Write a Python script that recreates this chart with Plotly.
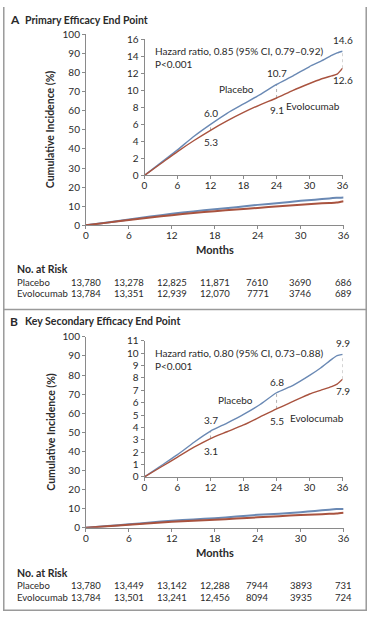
import plotly.graph_objects as go

W, H = 373, 617

# ---------------- data ----------------
months = [0, 3, 6, 9, 12, 15, 18, 21, 24, 27, 30, 32, 34, 35, 36]
placebo_a = [0, 1.5, 3.0, 4.6, 6.0, 7.3, 8.4, 9.5, 10.7, 11.7, 12.8, 13.4, 14.1, 14.4, 14.6]
evolocumab_a = [0, 1.4, 2.8, 4.1, 5.3, 6.4, 7.4, 8.3, 9.1, 10.0, 10.8, 11.3, 11.7, 11.9, 12.6]
placebo_b = [0, 0.9, 1.8, 2.8, 3.7, 4.35, 5.05, 5.85, 6.8, 7.4, 8.2, 8.8, 9.5, 9.8, 9.9]
evolocumab_b = [0, 0.8, 1.6, 2.4, 3.1, 3.65, 4.2, 4.85, 5.5, 6.1, 6.7, 7.0, 7.3, 7.5, 7.9]

marked_months = [12, 24, 36]

risk_months = [0, 6, 12, 18, 24, 30, 36]
risk_placebo_a = ["13,780", "13,278", "12,825", "11,871", "7610", "3690", "686"]
risk_evolocumab_a = ["13,784", "13,351", "12,939", "12,070", "7771", "3746", "689"]
risk_placebo_b = ["13,780", "13,449", "13,142", "12,288", "7944", "3893", "731"]
risk_evolocumab_b = ["13,784", "13,501", "13,241", "12,456", "8094", "3935", "724"]

hr_text_a = "Hazard ratio, 0.85 (95% CI, 0.79–0.92)<br>P<0.001"
hr_text_b = "Hazard ratio, 0.80 (95% CI, 0.73–0.88)<br>P<0.001"

PLACEBO_C = "#6a89b4"
EVO_C = "#a9533f"
TXT = "#2a2a2a"
AX = "#8a8a8a"
FONT = "Lato"


def fx(px):
    return px / W


def fy(py):
    return 1 - py / H


fig = go.Figure()

panels = [
    dict(pl=placebo_a, ev=evolocumab_a, main=("x", "y"), ins=("x2", "y2")),
    dict(pl=placebo_b, ev=evolocumab_b, main=("x3", "y3"), ins=("x4", "y4")),
]

for p in panels:
    fig.add_trace(go.Scatter(x=months, y=p["pl"], mode="lines", line=dict(color=PLACEBO_C, width=2, shape="spline", smoothing=0.6),
                             xaxis=p["main"][0], yaxis=p["main"][1], cliponaxis=False, hoverinfo="skip"))
    fig.add_trace(go.Scatter(x=months, y=p["ev"], mode="lines", line=dict(color=EVO_C, width=2, shape="spline", smoothing=0.6),
                             xaxis=p["main"][0], yaxis=p["main"][1], cliponaxis=False, hoverinfo="skip"))
    for m in marked_months:
        i = months.index(m)
        fig.add_trace(go.Scatter(x=[m, m], y=[p["ev"][i], p["pl"][i]], mode="lines",
                                 line=dict(color="#b0b0b0", width=1, dash="dot"),
                                 xaxis=p["ins"][0], yaxis=p["ins"][1], cliponaxis=False, hoverinfo="skip"))
    fig.add_trace(go.Scatter(x=months, y=p["pl"], mode="lines", line=dict(color=PLACEBO_C, width=1.4, shape="spline", smoothing=0.6),
                             xaxis=p["ins"][0], yaxis=p["ins"][1], cliponaxis=False, hoverinfo="skip"))
    fig.add_trace(go.Scatter(x=months, y=p["ev"], mode="lines", line=dict(color=EVO_C, width=1.4, shape="spline", smoothing=0.6),
                             xaxis=p["ins"][0], yaxis=p["ins"][1], cliponaxis=False, hoverinfo="skip"))

tickfont = dict(family=FONT, size=10, color=TXT)


def xax(domain, anchor):
    return dict(domain=domain, anchor=anchor, range=[0, 36], tickvals=[0, 6, 12, 18, 24, 30, 36],
                ticks="outside", ticklen=3, tickcolor=AX, showline=True, linecolor=AX, linewidth=1,
                showgrid=False, zeroline=False, tickfont=tickfont, fixedrange=True,
                ticklabelstandoff=-2)


def yax(domain, anchor, rng, dtick):
    return dict(domain=domain, anchor=anchor, range=rng, dtick=dtick,
                ticks="outside", ticklen=3, tickcolor=AX, showline=True, linecolor=AX, linewidth=1,
                showgrid=False, zeroline=False, tickfont=tickfont, fixedrange=True)


main_x = [fx(85), fx(349)]
ins_x = [fx(145), fx(348)]

fig.update_layout(
    width=W, height=H, margin=dict(l=0, r=0, t=0, b=0),
    paper_bgcolor="white", plot_bgcolor="rgba(0,0,0,0)", showlegend=False,
    font=dict(family=FONT, color=TXT),
    xaxis=xax(main_x, "y"),
    yaxis=yax([fy(223), fy(28)], "x", [0, 100], 10),
    xaxis2=xax(ins_x, "y2"),
    yaxis2=yax([fy(172), fy(33)], "x2", [0, 16], 2),
    xaxis3=xax(main_x, "y3"),
    yaxis3=yax([fy(532), fy(337)], "x3", [0, 100], 10),
    xaxis4=xax(ins_x, "y4"),
    yaxis4=yax([fy(480), fy(341)], "x4", [0, 11], 1),
)

ann = []


def paper_text(text, x, y, size=10, bold=False, xanchor="left", angle=0):
    t = f"<b>{text}</b>" if bold else text
    ann.append(dict(text=t, x=fx(x), y=fy(y), xref="paper", yref="paper", showarrow=False,
                    xanchor=xanchor, yanchor="middle", textangle=angle,
                    font=dict(family=FONT, size=size, color=TXT)))


def data_text(text, x, y, xr, yr, yshift=0, xanchor="center", size=10):
    ann.append(dict(text=text, x=x, y=y, xref=xr, yref=yr, showarrow=False, xanchor=xanchor,
                    yanchor="middle", yshift=yshift,
                    font=dict(family=FONT, size=size, color=TXT)))


paper_text("A", 5, 13, size=12, bold=True)
paper_text("Primary Efficacy End Point", 21, 13, size=10.5, bold=True)
paper_text("B", 5, 321, size=12, bold=True)
paper_text("Key Secondary Efficacy End Point", 21, 321, size=10.5, bold=True)

paper_text("Cumulative Incidence (%)", 49, 125, size=10.5, bold=True, xanchor="center", angle=-90)
paper_text("Cumulative Incidence (%)", 49, 434, size=10.5, bold=True, xanchor="center", angle=-90)
paper_text("Months", 217, 248, size=11, bold=True, xanchor="center")
paper_text("Months", 217, 557, size=11, bold=True, xanchor="center")

ann.append(dict(text=hr_text_a, x=fx(154), y=fy(37), xref="paper", yref="paper", showarrow=False,
                xanchor="left", yanchor="top", align="left",
                font=dict(family=FONT, size=10, color=TXT)))
ann.append(dict(text=hr_text_b, x=fx(154), y=fy(345), xref="paper", yref="paper", showarrow=False,
                xanchor="left", yanchor="top", align="left",
                font=dict(family=FONT, size=10, color=TXT)))

data_text("Placebo", 16.8, 10.1, "x2", "y2")
data_text("Evolocumab", 30.7, 8.2, "x2", "y2")
data_text("Placebo", 16.5, 6.2, "x4", "y4")
data_text("Evolocumab", 31.4, 4.8, "x4", "y4")

for p in panels:
    xr, yr = p["ins"]
    for m in marked_months:
        i = months.index(m)
        data_text(f"{p['pl'][i]:.1f}", m, p["pl"][i], xr, yr, yshift=11)
        data_text(f"{p['ev'][i]:.1f}", m, p["ev"][i], xr, yr, yshift=-12)

TS = 9.5
for (pl_row, ev_row, top, xr) in [
    (risk_placebo_a, risk_evolocumab_a, 268, "x"),
    (risk_placebo_b, risk_evolocumab_b, 578, "x3"),
]:
    paper_text("No. at Risk", 12, top, size=10.5, bold=True)
    paper_text("Placebo", 12, top + 13, size=TS)
    paper_text("Evolocumab", 12, top + 25, size=TS)
    for m, a, b in zip(risk_months, pl_row, ev_row):
        ann.append(dict(text=a, x=m, y=fy(top + 13), xref=xr, yref="paper", showarrow=False,
                        xanchor="center", yanchor="middle", font=dict(family=FONT, size=TS, color=TXT)))
        ann.append(dict(text=b, x=m, y=fy(top + 25), xref=xr, yref="paper", showarrow=False,
                        xanchor="center", yanchor="middle", font=dict(family=FONT, size=TS, color=TXT)))

fig.update_layout(annotations=ann)

border = "#9a9a9a"
shapes = [
    dict(type="line", xref="paper", yref="paper", x0=fx(0.8), x1=fx(0.8), y0=0, y1=1, line=dict(color=border, width=1.5)),
    dict(type="line", xref="paper", yref="paper", x0=fx(372.2), x1=fx(372.2), y0=0, y1=1, line=dict(color=border, width=1.5)),
    dict(type="line", xref="paper", yref="paper", x0=0, x1=1, y0=fy(616.2), y1=fy(616.2), line=dict(color=border, width=1.5)),
    dict(type="line", xref="paper", yref="paper", x0=0, x1=1, y0=fy(309), y1=fy(309), line=dict(color=border, width=1.5)),
]
fig.update_layout(shapes=shapes)

fig.write_html("out.html", config={"displayModeBar": False},
               post_script="document.body.style.margin='0';document.body.style.overflow='hidden';")
